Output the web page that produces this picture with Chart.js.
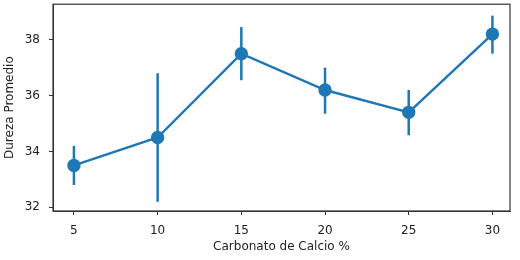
<!DOCTYPE html>
<html>
<head>
<meta charset="utf-8">
<script src="https://cdn.jsdelivr.net/npm/chart.js@4"></script>
<style>
  body { margin: 0; background: #fff; }
  #marco { width: 520px; height: 260px; overflow: hidden; position: relative; }
  #wrap { width: 520px; height: 272px; position: absolute; top: -12px; left: 0; }
</style>
</head>
<body>
<div id="marco"><div id="wrap"><canvas id="grafico"></canvas></div></div>
<script>
// datos
const carbonato = [5, 10, 15, 20, 25, 30];
const durezaMedia = [33.5, 34.5, 37.5, 36.2, 35.4, 38.2];
const errorInf = [32.8, 32.2, 36.55, 35.35, 34.58, 37.5];
const errorSup = [34.2, 36.8, 38.45, 37.0, 36.2, 38.86];
const ticksY = [32, 34, 36, 38];

const azul = '#1f77b4';

// barras de error y marco del eje
const barrasError = {
  id: 'barrasError',
  beforeDatasetsDraw(chart) {
    const { ctx, scales: { x, y } } = chart;
    ctx.save();
    ctx.strokeStyle = azul;
    ctx.lineWidth = 2.5;
    carbonato.forEach((c, i) => {
      const px = x.getPixelForValue(c);
      ctx.beginPath();
      ctx.moveTo(px, y.getPixelForValue(errorInf[i]));
      ctx.lineTo(px, y.getPixelForValue(errorSup[i]));
      ctx.stroke();
    });
    ctx.restore();
  },
  afterDraw(chart) {
    const { ctx, chartArea: a } = chart;
    ctx.save();
    ctx.strokeStyle = '#333';
    ctx.lineWidth = 1.2;
    ctx.strokeRect(a.left, a.top, a.right - a.left, a.bottom - a.top);
    ctx.restore();
  }
};

new Chart(document.getElementById('grafico'), {
  type: 'line',
  data: {
    datasets: [{
      data: carbonato.map((c, i) => ({ x: c, y: durezaMedia[i] })),
      borderColor: azul,
      backgroundColor: azul,
      borderWidth: 2.4,
      pointRadius: 5.5,
      pointHoverRadius: 5.5,
      tension: 0
    }]
  },
  options: {
    responsive: true,
    maintainAspectRatio: false,
    animation: false,
    layout: { padding: { top: 4, right: 10, bottom: 2, left: 0 } },
    plugins: { legend: { display: false }, tooltip: { enabled: false } },
    scales: {
      x: {
        type: 'linear',
        min: 3.75,
        max: 31.05,
        afterBuildTicks: axis => { axis.ticks = carbonato.map(v => ({ value: v })); },
        afterFit: axis => { axis.height = 47; },
        grid: { drawOnChartArea: false, tickLength: 4, color: '#333' },
        border: { color: '#333' },
        ticks: { color: '#222', font: { family: 'DejaVu Sans', size: 12 }, padding: 9 },
        title: { display: true, text: 'Carbonato de Calcio %', color: '#222', font: { family: 'DejaVu Sans', size: 12 }, padding: { top: 2, bottom: 4 } }
      },
      y: {
        min: 31.87,
        max: 39.27,
        afterBuildTicks: axis => { axis.ticks = ticksY.map(v => ({ value: v })); },
        afterFit: axis => { axis.width = 53; },
        grid: { drawOnChartArea: false, tickLength: 4, color: '#333' },
        border: { color: '#333' },
        ticks: { color: '#222', font: { family: 'DejaVu Sans', size: 12 }, padding: 9 },
        title: { display: true, text: 'Dureza Promedio', color: '#222', font: { family: 'DejaVu Sans', size: 12 }, padding: { top: 3, bottom: 2 } }
      }
    }
  },
  plugins: [barrasError]
});
</script>
</body>
</html>
